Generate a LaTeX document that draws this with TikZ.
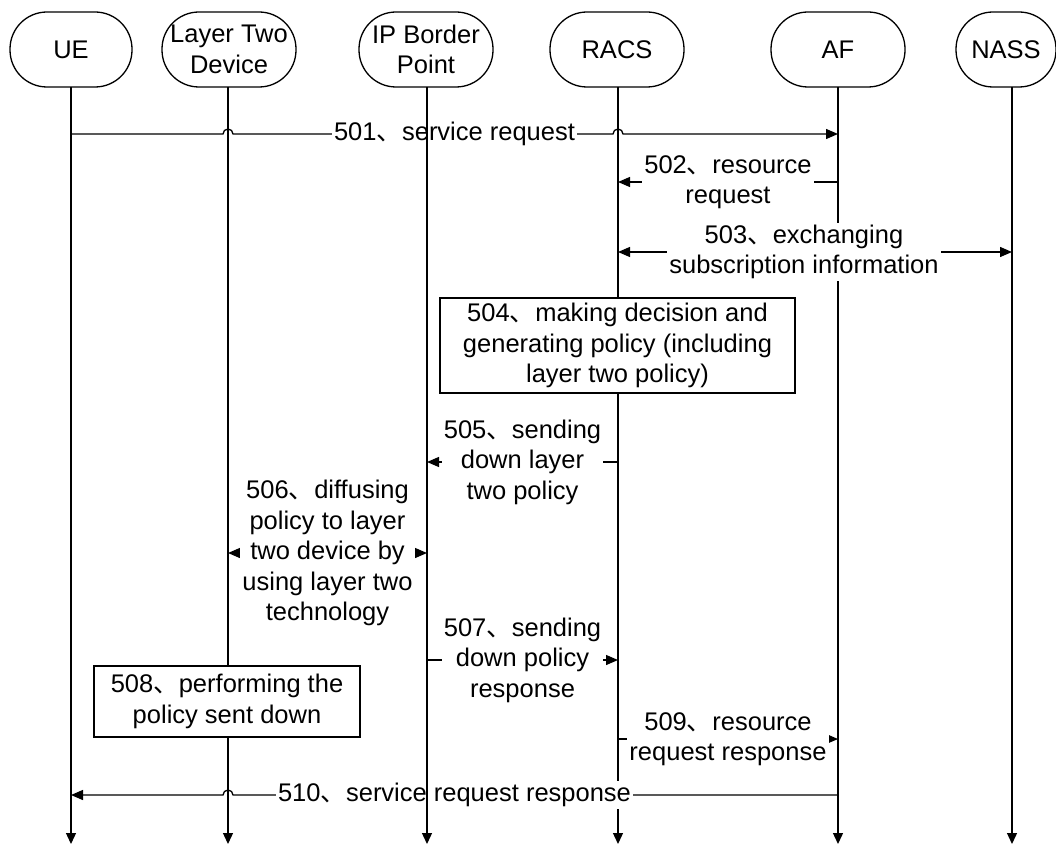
\documentclass[tikz,border=0pt]{standalone}
\usepackage{fontspec}
\setmainfont{Liberation Sans}
\newfontfamily\cjk{Noto Sans CJK SC}
\usetikzlibrary{arrows.meta}
\newcommand{\dn}{{\cjk 、}}
\begin{document}
\begin{tikzpicture}[x=1pt,y=-1pt,
  every node/.style={font=\fontsize{25.5}{30.5}\selectfont},
  head/.style={draw, line width=1.3pt, rounded corners=37pt, minimum height=75pt, inner sep=0pt, align=center},
  life/.style={line width=1.3pt, -{Triangle[length=11pt,width=10pt]}},
  msg/.style={line width=1.3pt, -{Triangle[length=12pt,width=10pt]}},
  dmsg/.style={line width=1.3pt, {Triangle[length=12pt,width=10pt]}-{Triangle[length=12pt,width=10pt]}},
  lbl/.style={fill=white, inner sep=2pt, align=center},
  act/.style={draw, fill=white, line width=1.3pt, inner sep=0pt, align=center},
]
\useasboundingbox (0,0) rectangle (1056,845);
\clip (0,0) rectangle (1056,845);

% heads
\node[head, minimum width=122pt] (ue)   at (71,49.5)   {UE};
\node[head, minimum width=134pt] (ltd)  at (229,49.5)  {Layer Two\\Device};
\node[head, minimum width=134pt] (ipb)  at (426,49.5)  {IP Border\\Point};
\node[head, minimum width=134pt] (racs) at (617,49.5)  {RACS};
\node[head, minimum width=134pt] (af)   at (838,49.5)  {AF};
\node[head, minimum width=100pt] (nass) at (1006,49.5) {NASS};

% lifeline tops
\coordinate (lUE) at (71,87);
\coordinate (lLT) at (228,87);
\coordinate (lIP) at (427,87);
\coordinate (lRA) at (618,87);
\coordinate (lAF) at (838,87);
\coordinate (lNA) at (1012,87);
\coordinate (bot) at (0,844);

% message rows
\coordinate (y501) at (0,134);
\coordinate (y502) at (0,182);
\coordinate (y503) at (0,252);
\coordinate (y505) at (0,462);
\coordinate (y506) at (0,553);
\coordinate (y507) at (0,660);
\coordinate (y509) at (0,739);
\coordinate (y510) at (0,795);

% lifelines (IP Border Point drawn last, on top)
\draw[life] (lUE) -- (lUE |- bot);
\draw[life] (lLT) -- (lLT |- bot);
\draw[life] (lRA) -- (lRA |- bot);
\draw[life] (lAF) -- (lAF |- bot);
\draw[life] (lNA) -- (lNA |- bot);

% 501
\draw[msg] (lUE |- y501) -- ([xshift=-5pt]lLT |- y501)
  arc[start angle=180, end angle=0, radius=5pt]
  -- ([xshift=-5pt]lRA |- y501)
  arc[start angle=180, end angle=0, radius=5pt]
  -- (lAF |- y501);
\node[lbl] (t501) at (454.5,134) {501\dn service request};

% 502
\draw[msg] (lAF |- y502) -- (lRA |- y502)
  node[midway, lbl] (t502) {502\dn resource\\request};

% 503
\draw[dmsg] (lRA |- y503) -- (lNA |- y503)
  node[pos=0.472, lbl] (t503) {503\dn exchanging\\subscription information};

% 504
\node[act, minimum width=355pt, minimum height=95pt] (b504) at (617.5,345.5)
  {504\dn making decision and\\generating policy (including\\layer two policy)};

% 505
\draw[msg] (lRA |- y505) -- (lIP |- y505)
  node[midway, lbl] (t505) {505\dn sending\\down layer\\two policy};

% 506
\draw[dmsg] (lLT |- y506) -- (lIP |- y506)
  node[midway, lbl] (t506) {506\dn diffusing\\policy to layer\\two device by\\using layer two\\technology};

% 507
\draw[msg] (lIP |- y507) -- (lRA |- y507)
  node[midway, lbl] (t507) {507\dn sending\\down policy\\response};

% 508
\node[act, minimum width=266pt, minimum height=71pt] (b508) at (227,701.5)
  {508\dn performing the\\policy sent down};

% 509
\draw[msg] (lRA |- y509) -- (lAF |- y509)
  node[midway, lbl] (t509) {509\dn resource\\request response};

% 510
\draw[msg] (lAF |- y510) -- ([xshift=5pt]lLT |- y510)
  arc[start angle=0, end angle=180, radius=5pt]
  -- (lUE |- y510);
\node[lbl] (t510) at (454.5,795) {510\dn service request response};

% IP Border Point lifeline on top
\draw[life] (lIP) -- (lIP |- bot);
\end{tikzpicture}
\end{document}
